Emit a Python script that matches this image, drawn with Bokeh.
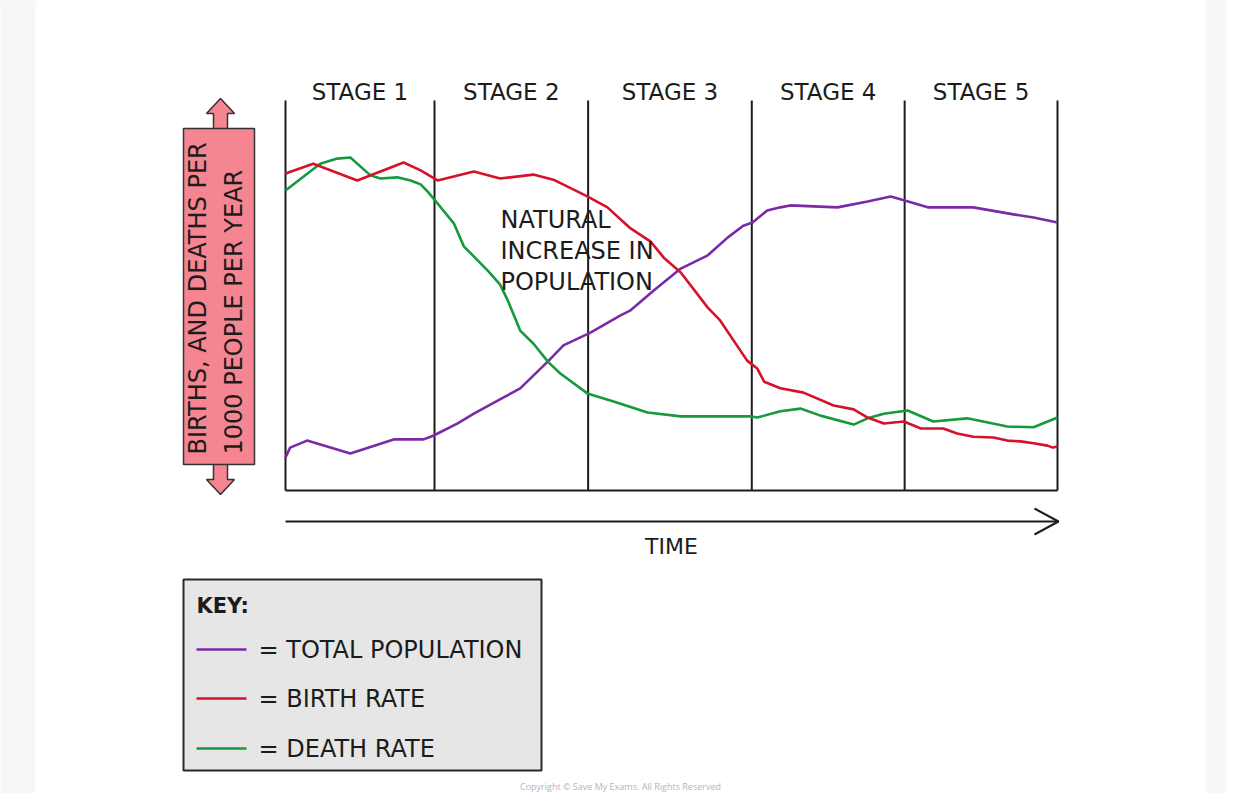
import numpy as np
from bokeh.plotting import figure
from bokeh.models import Range1d, Label
from bokeh.embed import file_html
from bokeh.resources import INLINE
from bokeh.core.properties import value

# ---------------- data ----------------
stages = ["STAGE 1", "STAGE 2", "STAGE 3", "STAGE 4", "STAGE 5"]
stage_bounds = [0, 19.3, 39.2, 60.4, 80.2, 100]

birth_x = [0, 3.6, 9.3, 15.3, 17.5, 19.7, 24.4, 27.8, 32.1, 34.7, 39.1, 41.7, 44.7, 47.3,
           49.0, 51.2, 54.7, 56.3, 59.8, 61.1, 62.0, 64.1, 67.1, 71.0, 73.6, 75.4, 77.5,
           80.1, 82.3, 85.2, 87.0, 89.1, 91.7, 93.5, 95.2, 96.9, 98.7, 99.4, 100]
birth_y = [81.3, 83.8, 79.5, 84.1, 82.1, 79.5, 81.8, 80.0, 81.0, 79.7, 75.4, 72.6, 67.2, 63.8,
           59.7, 55.9, 46.9, 43.6, 33.3, 31.3, 27.9, 26.2, 25.1, 21.8, 20.8, 18.7, 17.2,
           17.7, 15.9, 15.9, 14.6, 13.8, 13.6, 12.8, 12.6, 12.1, 11.5, 11.0, 11.3]

death_x = [0, 4.5, 6.7, 8.4, 11.0, 12.3, 14.5, 16.2, 17.5, 18.4, 19.7, 21.8, 23.1, 26.2,
           27.8, 28.8, 30.4, 32.1, 34.1, 35.6, 39.1, 42.5, 46.9, 51.2, 55.4, 60.2, 61.1,
           64.1, 66.7, 69.3, 73.6, 75.4, 77.5, 80.6, 83.9, 88.3, 93.5, 96.9, 100]
death_y = [76.9, 83.8, 85.1, 85.4, 80.8, 80.0, 80.3, 79.5, 78.5, 76.7, 73.6, 68.5, 62.6, 56.4,
           52.8, 48.7, 41.0, 37.7, 32.8, 30.0, 24.9, 22.8, 20.0, 19.0, 19.0, 19.0, 18.7,
           20.3, 21.0, 19.2, 16.9, 18.5, 19.7, 20.5, 17.7, 18.5, 16.4, 16.2, 18.7]

pop_x = [0, 0.6, 2.8, 8.4, 14.0, 17.9, 19.2, 22.3, 24.4, 28.2, 30.4, 34.1, 36.0, 39.5,
         43.4, 44.7, 47.7, 51.2, 54.7, 57.3, 59.3, 60.5, 62.4, 64.1, 65.4, 71.5, 75.4,
         78.4, 80.1, 83.2, 89.1, 94.3, 96.9, 100]
pop_y = [8.5, 11.0, 12.8, 9.5, 13.1, 13.1, 14.1, 17.2, 19.7, 23.8, 26.2, 33.3, 37.2, 40.5,
         44.9, 46.2, 51.3, 56.9, 60.3, 64.9, 67.9, 68.7, 71.8, 72.6, 73.1, 72.6, 74.1,
         75.4, 74.4, 72.6, 72.6, 70.8, 70.0, 68.7]

key_labels = ["= TOTAL POPULATION", "= BIRTH RATE", "= DEATH RATE"]
y_label_lines = ["BIRTHS, AND DEATHS PER", "1000 PEOPLE PER YEAR"]
annotation_lines = ["NATURAL", "INCREASE IN", "POPULATION"]

# ---------------- styling / layout ----------------
PURPLE = "#7a2aa6"
RED = "#d6112b"
GREEN = "#17993d"
INK = "#1c1c1c"
FONT = value("DejaVu Sans")

# reference pixel -> data helpers (layout only)
X0, XS = 285.0, 7.72
Y0, YS = 490.0, 3.9
def X(px):
    return (px - X0) / XS
def Y(py):
    return (Y0 - py) / YS

W, H = 1226, 793
OFF = 0
p = figure(width=W, height=H,
           x_range=Range1d(X(OFF), X(OFF + W)), y_range=Range1d(Y(OFF + H), Y(OFF)),
           output_backend="svg", toolbar_location=None, min_border=0,
           x_axis_location=None, y_axis_location=None,
           outline_line_color=None, background_fill_color="white",
           border_fill_color="white")
p.grid.visible = False

# light grey side margins of the page
p.quad(left=[X(-10), X(1205)], right=[X(35), X(1260)], bottom=[Y(820)] * 2, top=[Y(-10)] * 2,
       fill_color="#f7f7f7", line_color=None)

# stage dividers and base line
p.segment(x0=stage_bounds, y0=[0] * 6, x1=stage_bounds, y1=[100] * 6,
          line_color=INK, line_width=2)
p.segment(x0=[0], y0=[0], x1=[100], y1=[0], line_color=INK, line_width=2.2)

# stage labels
mids = [(a + b) / 2 for a, b in zip(stage_bounds[:-1], stage_bounds[1:])]
p.text(x=mids, y=[Y(91)] * 5, text=stages, text_align="center", text_baseline="middle",
       text_font=FONT, text_font_size="23px", text_color=INK)

# series
p.line(pop_x, pop_y, line_color=PURPLE, line_width=2.6, line_join="round")
p.line(death_x, death_y, line_color=GREEN, line_width=2.6, line_join="round")
p.line(birth_x, birth_y, line_color=RED, line_width=2.6, line_join="round")

# annotation text
for txt, py in zip(annotation_lines, [219, 250, 281]):
    p.add_layout(Label(x=X(500), y=Y(py), text=txt, text_align="left", text_baseline="middle",
                       text_font="DejaVu Sans", text_font_size="24px", text_color=INK))

# time arrow
p.segment(x0=[0], y0=[Y(521)], x1=[X(1058)], y1=[Y(521)], line_color=INK, line_width=2)
p.line([X(1034), X(1058), X(1034)], [Y(508), Y(521), Y(534)], line_color=INK, line_width=2)
p.add_layout(Label(x=X(671), y=Y(546), text="TIME", text_align="center", text_baseline="middle",
                   text_font="DejaVu Sans", text_font_size="22px", text_color=INK))

# y label box with arrows
p.patch([X(213), X(213), X(206), X(220), X(234), X(227), X(227)],
        [Y(129), Y(113), Y(113), Y(98), Y(113), Y(113), Y(129)],
        fill_color="#f58591", line_color="#333333", line_width=1.5)
p.patch([X(213), X(213), X(206), X(220), X(234), X(227), X(227)],
        [Y(463), Y(479), Y(479), Y(494), Y(479), Y(479), Y(463)],
        fill_color="#f58591", line_color="#333333", line_width=1.5)
p.quad(left=[X(183)], right=[X(254)], top=[Y(128)], bottom=[Y(464)],
       fill_color="#f58591", line_color="#333333", line_width=1.5)
for txt, px in zip(y_label_lines, [197, 233]):
    p.add_layout(Label(x=X(px), y=Y(454), text=txt, angle=np.pi / 2, text_align="left",
                       text_baseline="middle", text_font="DejaVu Sans", text_font_size="24px",
                       text_color=INK))

# key
p.quad(left=[X(183)], right=[X(541)], top=[Y(579)], bottom=[Y(770)],
       fill_color="#e6e6e6", line_color="#2a2a2a", line_width=2)
p.add_layout(Label(x=X(196), y=Y(605), text="KEY:", text_align="left", text_baseline="middle",
                   text_font="DejaVu Sans", text_font_size="21px", text_font_style="bold",
                   text_color=INK))
key_y = [Y(649), Y(698), Y(748)]
p.segment(x0=[X(196)] * 3, y0=key_y, x1=[X(246)] * 3, y1=key_y,
          line_color=[PURPLE, RED, GREEN], line_width=2.6)
p.text(x=[X(258)] * 3, y=key_y, text=key_labels, text_align="left", text_baseline="middle",
       text_font=FONT, text_font_size="24px", text_color=INK)

# copyright
p.add_layout(Label(x=X(620), y=Y(786), text="Copyright \u00a9 Save My Exams. All Rights Reserved",
                   text_align="center", text_baseline="middle", text_font="Open Sans",
                   text_font_size="9px", text_color="#b5b5b5"))

open("out.html", "w").write(file_html(p, INLINE))
